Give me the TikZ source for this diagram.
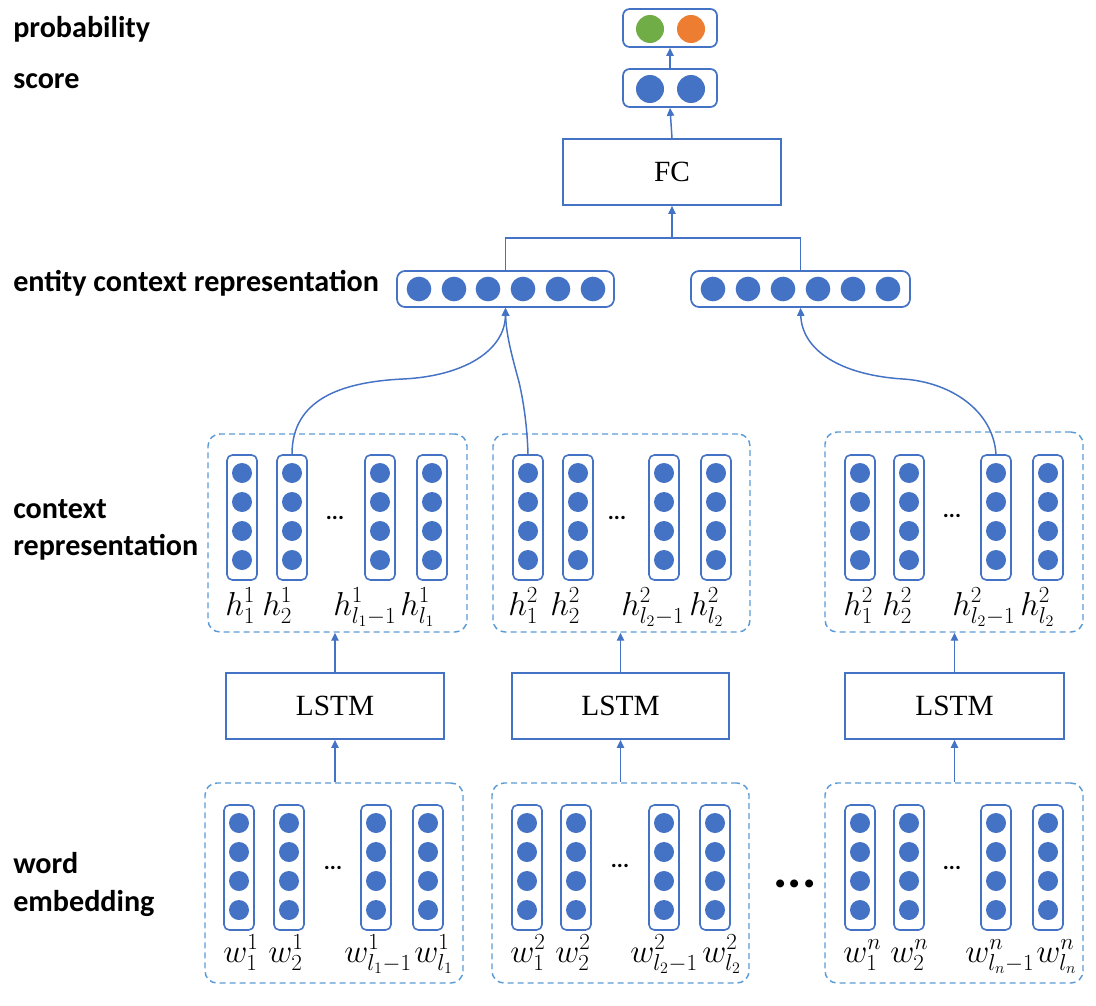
\documentclass[tikz,border=0pt]{standalone}
\usepackage{fontspec}
\setmainfont{Liberation Serif}
\newfontfamily\labfont{Carlito}
\usetikzlibrary{fit,arrows.meta}
\definecolor{cb}{HTML}{4472C4}
\definecolor{cd}{HTML}{5B9BD5}
\definecolor{cg}{HTML}{70AD47}
\definecolor{co}{HTML}{ED7D31}
\newcommand{\vcol}[3]{%
  \node[colbox, fit={(#2,#3) (#2+30,#3+125)}] (#1) {};
  \foreach \k in {0,1,2,3} {\node[dot] (#1-\k) at (#2+15, #3+18+29*\k) {};}
}
\begin{document}
\begin{tikzpicture}[x=0.75pt,y=-0.75pt,
  lbl/.style={anchor=base west, inner sep=0, font=\labfont\bfseries\fontsize{22.6}{27}\selectfont},
  sbox/.style={draw=cb, line width=1.3pt, rounded corners=5pt, inner sep=0},
  rbox/.style={draw=cb, line width=1.3pt, inner sep=0},
  colbox/.style={draw=cb, line width=1.2pt, rounded corners=4pt, inner sep=0},
  dbox/.style={draw=cd, line width=1.1pt, dash pattern=on 4.5pt off 3pt, rounded corners=9pt, inner sep=0},
  dot/.style={circle, fill=cb, inner sep=0, minimum size=15pt},
  edot/.style={circle, fill=cb, inner sep=0, minimum size=18.5pt},
  pdot/.style={circle, inner sep=0, minimum size=21pt},
  arr/.style={draw=cb, line width=1.1pt, -{Triangle[length=6pt,width=5.5pt]}},
  conn/.style={draw=cb, line width=1.1pt},
  txt/.style={font=\fontsize{22}{26}\selectfont},
  mlab/.style={anchor=base west, inner sep=0, font=\fontsize{24}{28}\selectfont},
  ell/.style={anchor=base, inner sep=0, font=\labfont\bfseries\fontsize{17}{19}\selectfont},
  bigell/.style={anchor=base, inner sep=0, font=\labfont\bfseries\fontsize{40}{40}\selectfont}
]
\useasboundingbox (0,0) rectangle (1096,1006);

% left labels
\node[lbl] (t1) at (13,38) {probability};
\node[lbl] (t2) at (13,89) {score};
\node[lbl] (t3) at (13,291) {entity context representation};
\node[lbl] (t4) at (13,518) {context};
\node[lbl] (t5) at (13,555) {representation};
\node[lbl] (t6) at (13,873) {word};
\node[lbl] (t7) at (13,911) {embedding};

% probability and score
\node[sbox, fit={(623,9) (717,47)}] (pr) {};
\node[pdot, fill=cg] (pr1) at (650,29) {};
\node[pdot, fill=co] (pr2) at (691,29) {};
\node[sbox, fit={(623,69) (717,107)}] (sc) {};
\node[pdot, fill=cb] (sc1) at (650,89) {};
\node[pdot, fill=cb] (sc2) at (691,89) {};

% FC
\node[rbox, fit={(563,139) (781,205)}, label={[txt]center:FC}] (fc) {};
\draw[arr] (fc.north) -- (sc.south);
\draw[arr] (sc.north) -- (pr.south);

% entity context boxes
\node[sbox, rounded corners=6pt, fit={(397,271) (614,307)}] (e1) {};
\foreach \x [count=\i] in {419,454,488,523,558,593} {\node[edot] (e1d\i) at (\x,289) {};}
\node[sbox, rounded corners=6pt, fit={(691,271) (910,307)}] (e2) {};
\foreach \x [count=\i] in {713,748,783,818,853,888} {\node[edot] (e2d\i) at (\x,289) {};}

\coordinate (j) at (672,238);
\draw[conn] (e1.north) -- (e1.north |- j) -- (e2.north |- j) -- (e2.north);
\draw[arr] (j) -- (fc.south);

% context representation boxes
\node[dbox, fit={(208,434) (467,632)}] (c1) {};
\node[dbox, fit={(493,434) (750,632)}] (c2) {};
\node[dbox, fit={(825,432) (1083,632)}] (c3) {};
\vcol{c1a}{227}{455}\vcol{c1b}{277}{455}\vcol{c1c}{365}{455}\vcol{c1d}{417}{455}
\vcol{c2a}{513}{455}\vcol{c2b}{563}{455}\vcol{c2c}{649}{455}\vcol{c2d}{701}{455}
\vcol{c3a}{845}{455}\vcol{c3b}{894}{455}\vcol{c3c}{981}{455}\vcol{c3d}{1033}{455}
\node[ell] (c1e) at (335,519) {...};
\node[ell] (c2e) at (617,519) {...};
\node[ell] (c3e) at (952,517) {...};

\node[mlab] (h11) at (225,615) {$h_1^1$};
\node[mlab] (h12) at (262,615) {$h_2^1$};
\node[mlab] (h13) at (333,615) {$h_{l_1-1}^1$};
\node[mlab] (h14) at (400,615) {$h_{l_1}^1$};
\node[mlab] (h21) at (508,615) {$h_1^2$};
\node[mlab] (h22) at (550,615) {$h_2^2$};
\node[mlab] (h23) at (621,615) {$h_{l_2-1}^2$};
\node[mlab] (h24) at (689,615) {$h_{l_2}^2$};
\node[mlab] (h31) at (843,615) {$h_1^2$};
\node[mlab] (h32) at (882,615) {$h_2^2$};
\node[mlab] (h33) at (952,615) {$h_{l_2-1}^2$};
\node[mlab] (h34) at (1020,615) {$h_{l_2}^2$};

% curves to entity boxes
\draw[arr] (c1b.north) .. controls (292,400) and (340,382) .. (403,379) .. controls (465,376) and (505,350) .. (e1.south);
\draw[arr] (c2a.north) .. controls (527,420) and (522,395) .. (519,382) .. controls (513,360) and (506,335) .. (e1.south);
\draw[arr] (c3c.north) .. controls (993,410) and (950,382) .. (903,379) .. controls (840,375) and (802,350) .. (e2.south);

% LSTM
\node[rbox, fit={(226,673) (444,739)}, label={[txt]center:LSTM}] (l1) {};
\node[rbox, fit={(512,673) (729,739)}, label={[txt]center:LSTM}] (l2) {};
\node[rbox, fit={(845,673) (1064,739)}, label={[txt]center:LSTM}] (l3) {};
\draw[arr] (l1.north) -- (l1.north |- c1.south);
\draw[arr] (l2.north) -- (l2.north |- c2.south);
\draw[arr] (l3.north) -- (l3.north |- c3.south);

% word embedding boxes
\node[dbox, fit={(205,783) (463,983)}] (w1) {};
\node[dbox, fit={(492,783) (749,983)}] (w2) {};
\node[dbox, fit={(825,783) (1083,983)}] (w3) {};
\draw[arr] (w1.north -| l1.south) -- (l1.south);
\draw[arr] (w2.north -| l2.south) -- (l2.south);
\draw[arr] (w3.north -| l3.south) -- (l3.south);
\vcol{w1a}{224}{805}\vcol{w1b}{274}{805}\vcol{w1c}{361}{805}\vcol{w1d}{413}{805}
\vcol{w2a}{512}{805}\vcol{w2b}{561}{805}\vcol{w2c}{649}{805}\vcol{w2d}{700}{805}
\vcol{w3a}{845}{805}\vcol{w3b}{894}{805}\vcol{w3c}{981}{805}\vcol{w3d}{1033}{805}
\node[ell] (w1e) at (333,869) {...};
\node[ell] (w2e) at (620,867) {...};
\node[ell] (w3e) at (952,869) {...};
\node[bigell] (we) at (795,887) {...};

\node[mlab] (x11) at (223,962) {$w_1^1$};
\node[mlab] (x12) at (268,962) {$w_2^1$};
\node[mlab] (x13) at (344,962) {$w_{l_1-1}^1$};
\node[mlab] (x14) at (414,962) {$w_{l_1}^1$};
\node[mlab] (x21) at (510,962) {$w_1^2$};
\node[mlab] (x22) at (555,962) {$w_2^2$};
\node[mlab] (x23) at (630,962) {$w_{l_2-1}^2$};
\node[mlab] (x24) at (702,962) {$w_{l_2}^2$};
\node[mlab] (x31) at (843,962) {$w_1^n$};
\node[mlab] (x32) at (890,962) {$w_2^n$};
\node[mlab] (x33) at (965,962) {$w_{l_n-1}^n$};
\node[mlab] (x34) at (1036,962) {$w_{l_n}^n$};
\end{tikzpicture}
\end{document}
